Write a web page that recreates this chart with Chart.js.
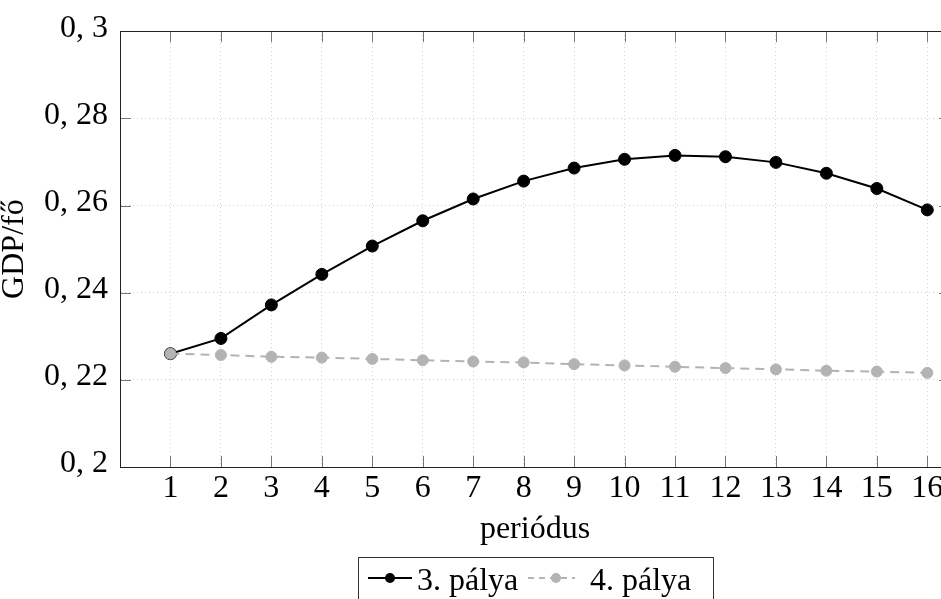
<!DOCTYPE html>
<html>
<head>
<meta charset="utf-8">
<script src="https://cdn.jsdelivr.net/npm/chart.js@4"></script>
<style>
  body { margin: 0; background: #fff; }
  #wrap { width: 941px; height: 599px; overflow: hidden; }
</style>
</head>
<body>
<div id="wrap"><canvas id="graph1" width="960" height="599"></canvas></div>
<script>
// periods on the x axis
const periods = [1, 2, 3, 4, 5, 6, 7, 8, 9, 10, 11, 12, 13, 14, 15, 16];
// GDP per capita, path 3 and path 4
const palya3 = [0.2260, 0.2295, 0.2372, 0.2442, 0.2507, 0.2565, 0.2615, 0.2656,
                0.2686, 0.2706, 0.2715, 0.2712, 0.2699, 0.2674, 0.2639, 0.2590];
const palya4 = [0.2260, 0.2257, 0.2253, 0.2251, 0.2248, 0.2245, 0.2242, 0.2240,
                0.2236, 0.2233, 0.2230, 0.2227, 0.2224, 0.2221, 0.2219, 0.2216];
const yTicks = [0.2, 0.22, 0.24, 0.26, 0.28, 0.3];
const seriesNames = ["3. pálya", "4. pálya"];

const serif = "'Liberation Serif', 'Times New Roman', serif";
const gray = "#b3b3b3";
const fsize = 32;

function fmt(v) {
  return parseFloat(v.toFixed(2)).toString().replace(".", ", ");
}

// frame, inward ticks and the boxed legend
const extras = {
  id: "extras",
  afterDraw(chart) {
    const c = chart.ctx;
    const a = chart.chartArea;
    const xs = chart.scales.x, ys = chart.scales.y;
    c.save();
    c.strokeStyle = "#777";
    c.lineWidth = 1;
    c.beginPath();
    periods.forEach(p => {
      const px = Math.round(xs.getPixelForValue(p)) + 0.5;
      c.moveTo(px, a.bottom); c.lineTo(px, a.bottom - 11);
      c.moveTo(px, a.top); c.lineTo(px, a.top + 11);
    });
    yTicks.forEach(t => {
      const py = Math.round(ys.getPixelForValue(t)) + 0.5;
      c.moveTo(a.left, py); c.lineTo(a.left + 11, py);
      c.moveTo(a.right, py); c.lineTo(a.right - 11, py);
    });
    c.stroke();
    c.strokeStyle = "#222";
    c.strokeRect(Math.round(a.left) + 0.5, Math.round(a.top) + 0.5,
                 Math.round(a.right - a.left), Math.round(a.bottom - a.top));

    // legend
    c.strokeStyle = "#333";
    c.strokeRect(358.5, 557.5, 355, 60);
    c.lineWidth = 2;
    c.strokeStyle = "#000";
    c.beginPath(); c.moveTo(368, 578); c.lineTo(412, 578); c.stroke();
    c.fillStyle = "#000";
    c.beginPath(); c.arc(390, 578, 5, 0, Math.PI * 2); c.fill();
    c.strokeStyle = gray;
    c.setLineDash([6, 5]);
    c.beginPath(); c.moveTo(528, 578); c.lineTo(575, 578); c.stroke();
    c.setLineDash([]);
    c.fillStyle = gray;
    c.beginPath(); c.arc(556, 578, 5, 0, Math.PI * 2); c.fill();
    c.fillStyle = "#000";
    c.font = fsize + "px " + serif;
    c.textBaseline = "alphabetic";
    c.fillText(seriesNames[0], 417, 590);
    c.fillText(seriesNames[1], 590, 590);
    c.restore();
  }
};

new Chart(document.getElementById("graph1"), {
  type: "line",
  data: {
    datasets: [{
      label: seriesNames[0],
      data: periods.map((p, i) => ({ x: p, y: palya3[i] })),
      borderColor: "#000",
      backgroundColor: "#000",
      borderWidth: 2,
      pointRadius: 6,
      pointBorderWidth: 1,
      pointBorderColor: "#000",
      pointBackgroundColor: "#000",
      order: 2
    }, {
      label: seriesNames[1],
      data: periods.map((p, i) => ({ x: p, y: palya4[i] })),
      borderColor: gray,
      backgroundColor: gray,
      borderWidth: 2,
      borderDash: [9, 6],
      pointRadius: 5.5,
      pointBorderWidth: 1,
      pointBorderColor: gray,
      pointBackgroundColor: gray,
      order: 1
    }]
  },
  options: {
    responsive: false,
    animation: false,
    layout: { padding: { top: 28, right: 10, bottom: 0, left: 0 } },
    plugins: { legend: { display: false }, tooltip: { enabled: false } },
    scales: {
      x: {
        type: "linear",
        min: 0,
        max: 16.45,
        afterBuildTicks: s => { s.ticks = periods.map(v => ({ value: v })); },
        afterFit: s => { s.height = 132; },
        grid: { color: "#cfcfcf", drawTicks: false },
        border: { display: true, color: "#222", width: 1, dash: [1, 3] },
        ticks: { color: "#000", padding: 2, maxRotation: 0,
                 font: { family: serif, size: fsize } },
        title: { display: true, text: "periódus", color: "#000",
                 padding: { top: 0, bottom: 50 },
                 font: { family: serif, size: fsize } }
      },
      y: {
        min: 0.2,
        max: 0.3,
        afterBuildTicks: s => { s.ticks = yTicks.map(v => ({ value: v })); },
        afterFit: s => { s.width = 120; },
        grid: { color: "#cfcfcf", drawTicks: false },
        border: { display: true, color: "#222", width: 1, dash: [1, 3] },
        ticks: { color: "#000", padding: 12, labelOffset: -3, callback: v => fmt(v),
                 font: { family: serif, size: fsize } },
        title: { display: true, text: "GDP/fő", color: "#000",
                 padding: 0,
                 font: { family: serif, size: fsize, lineHeight: 0.9 } }
      }
    }
  },
  plugins: [extras]
});
</script>
</body>
</html>
